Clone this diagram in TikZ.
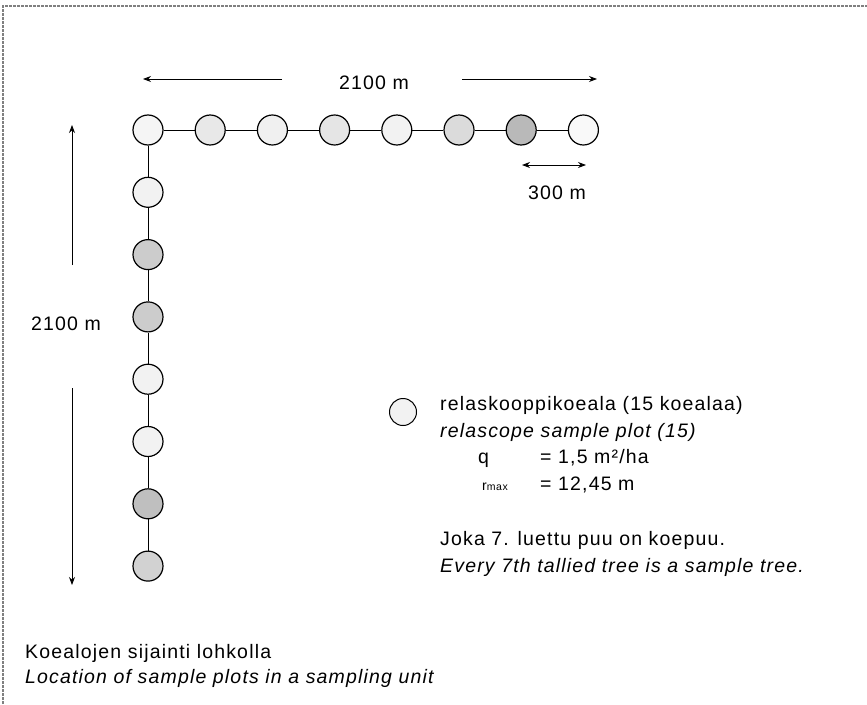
\documentclass[tikz,border=0pt]{standalone}
\usepackage{fontspec}
\setmainfont[LetterSpace=6]{Liberation Sans}
\usetikzlibrary{arrows.meta}
\begin{document}
\begin{tikzpicture}[x=1pt,y=-1pt,
  plot/.style={circle,draw=black,line width=1.2pt,minimum size=30pt,inner sep=0pt},
  link/.style={line width=0.9pt},
  dim/.style={line width=0.9pt,-{Stealth[length=8pt,width=6pt]}},
  dimboth/.style={line width=0.9pt,{Stealth[length=8pt,width=6pt]}-{Stealth[length=8pt,width=6pt]}},
  txt/.style={font=\fontsize{19.5}{22}\selectfont, inner sep=0pt, anchor=base west},
  itxt/.style={font=\fontsize{19.5}{22}\selectfont\itshape, inner sep=0pt, anchor=base west},
  frame/.style={gray, line width=1.2pt, dash pattern=on 3pt off 1pt}]
\useasboundingbox (0,0) rectangle (867,704);
% frame (top and left edges visible)
\coordinate (fa) at (3,704);
\coordinate (fb) at (3,6);
\coordinate (fc) at (867,6);
\draw[frame] (fa) -- (fb) -- (fc);
% top row of plots
\node[plot,fill=gray!8]  (h1) at (148,130) {};
\node[plot,fill=gray!18] (h2) at (210.2,130) {};
\node[plot,fill=gray!12] (h3) at (272.4,130) {};
\node[plot,fill=gray!20] (h4) at (334.6,130) {};
\node[plot,fill=gray!10] (h5) at (396.8,130) {};
\node[plot,fill=gray!28] (h6) at (459,130) {};
\node[plot,fill=gray!55] (h7) at (521.2,130) {};
\node[plot,fill=gray!5]  (h8) at (583.4,130) {};
% column of plots
\node[plot,fill=gray!10] (v2) at (148,192.3) {};
\node[plot,fill=gray!40] (v3) at (148,254.6) {};
\node[plot,fill=gray!40] (v4) at (148,316.9) {};
\node[plot,fill=gray!10] (v5) at (148,379.2) {};
\node[plot,fill=gray!10] (v6) at (148,441.5) {};
\node[plot,fill=gray!50] (v7) at (148,503.8) {};
\node[plot,fill=gray!35] (v8) at (148,566.1) {};
% links
\draw[link] (h1) -- (h2);
\draw[link] (h2) -- (h3);
\draw[link] (h3) -- (h4);
\draw[link] (h4) -- (h5);
\draw[link] (h5) -- (h6);
\draw[link] (h6) -- (h7);
\draw[link] (h7) -- (h8);
\draw[link] (h1) -- (v2);
\draw[link] (v2) -- (v3);
\draw[link] (v3) -- (v4);
\draw[link] (v4) -- (v5);
\draw[link] (v5) -- (v6);
\draw[link] (v6) -- (v7);
\draw[link] (v7) -- (v8);
% horizontal dimension
\coordinate (tl0) at (282,79);
\coordinate (tl1) at (143,79);
\coordinate (tr0) at (462,79);
\coordinate (tr1) at (597,79);
\draw[dim] (tl0) -- (tl1);
\draw[dim] (tr0) -- (tr1);
\node[txt,anchor=base] (toplab) at (374,89) {2100 m};
% spacing dimension
\coordinate (s0) at (522,165);
\coordinate (s1) at (586,165);
\draw[dimboth] (s0) -- (s1);
\node[txt,anchor=base] (spclab) at (557,199) {300 m};
% vertical dimension
\coordinate (vu0) at (72,265);
\coordinate (vu1) at (72,125);
\coordinate (vd0) at (72,388);
\coordinate (vd1) at (72,585);
\draw[dim] (vu0) -- (vu1);
\draw[dim] (vd0) -- (vd1);
\node[txt,anchor=base] (sidelab) at (66,330) {2100 m};
% legend
\node[plot,fill=gray!10,line width=1pt,minimum size=27pt] (leg) at (403,412) {};
\node[txt]  (l1) at (440,410) {relaskooppikoeala (15 koealaa)};
\node[itxt] (l2) at (440,437) {relascope sample plot (15)};
\node[txt]  (lq) at (478,463) {q};
\node[txt]  (lqv) at (540,463) {= 1,5 m²/ha};
\node[txt]  (lr) at (482,490) {\fontsize{14}{14}\selectfont r\fontsize{10.5}{10.5}\selectfont max};
\node[txt]  (lrv) at (540,490) {= 12,45 m};
\node[txt]  (l5) at (440,545) {Joka 7. luettu puu on koepuu.};
\node[itxt] (l6) at (440,572) {Every 7th tallied tree is a sample tree.};
% caption
\node[txt]  (c1) at (25,658) {Koealojen sijainti lohkolla};
\node[itxt] (c2) at (25,683) {Location of sample plots in a sampling unit};
\end{tikzpicture}
\end{document}
